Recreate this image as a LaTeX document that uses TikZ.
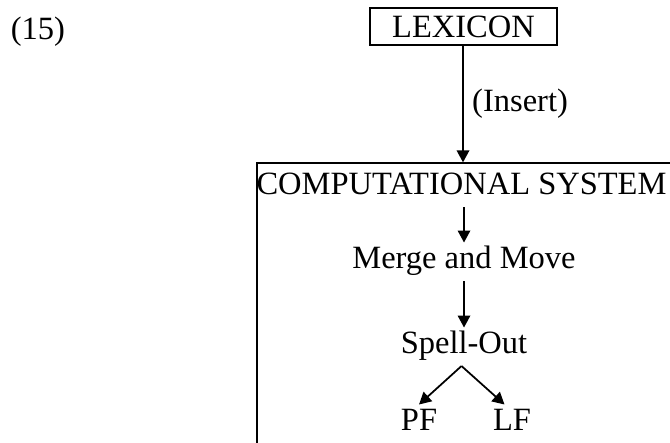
\documentclass[tikz,border=0pt]{standalone}
\usepackage{fontspec}
\setmainfont{Liberation Serif}
\usepackage{tikz}
\usetikzlibrary{arrows.meta, positioning}
\tikzset{
    every picture/.style={font=\fontsize{13}{15}\selectfont},
    stage/.style={inner sep=2pt, text height=8pt, text depth=3pt, anchor=base},
    lexbox/.style={draw, line width=0.5pt, inner sep=0pt,
        minimum width=74.8pt, minimum height=14.8pt},
    sysbox/.style={draw, line width=0.5pt, inner sep=0pt},
    every edge/.style={
        draw,
        -{Triangle[length=4.8pt,width=5pt]},
        line width=0.7pt
    }
}

\begin{document}
\begin{tikzpicture}[x=0.4pt,y=-0.4pt]
	\useasboundingbox (0,0) rectangle (670,442);
	\node[anchor=base] (ex) at (38,39) {(15)};
	\node[lexbox] (lex) at (463.5,26.5) {LEXICON};
	\node[sysbox, minimum width=169.2pt, minimum height=122.8pt] (sys) at (468.5,316.5) {};
	\node[stage] (cs) at (461.5,194) {COMPUTATIONAL SYSTEM};
	\node[stage] (mm) at (464,268) {Merge and Move};
	\node[stage] (so) at (464,353) {Spell-Out};
	\node[stage] (pf) at (419,430) {PF};
	\node[stage] (lf) at (512,430) {LF};
	\draw
	([xshift=-0.2pt]lex.south) edge node[right]{(Insert)} ([xshift=-0.2pt]lex.south |- sys.north)
	(mm.north |- cs.south) edge (mm.north)
	(mm.south) edge (so.north)
	([xshift=-1pt]so.south) edge (pf.north)
	([xshift=-1pt]so.south) edge ([xshift=-3pt]lf.north);
\end{tikzpicture}
\end{document}
